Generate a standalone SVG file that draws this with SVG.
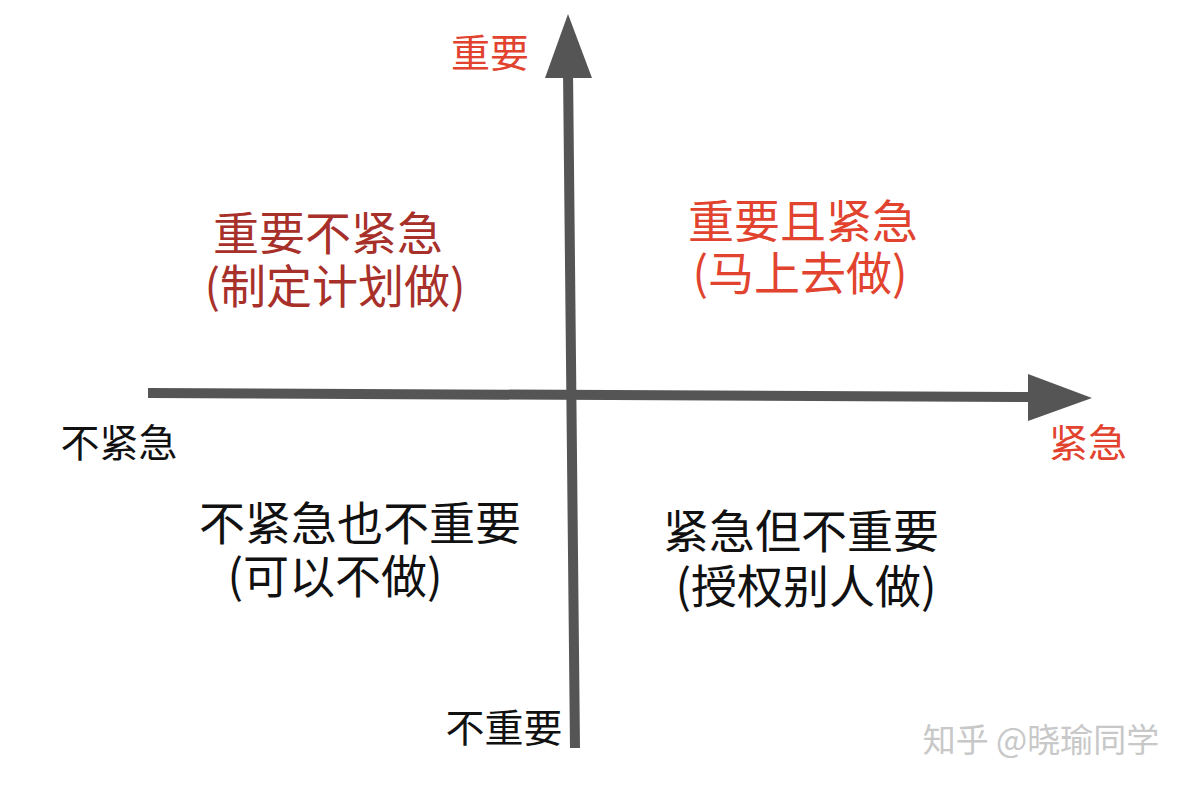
<svg xmlns="http://www.w3.org/2000/svg" width="1200" height="785" viewBox="0 0 1200 785">
<style>
text{font-family:"Noto Sans CJK SC","Noto Sans",sans-serif;text-anchor:middle;dominant-baseline:central}
.ax{stroke:#555;stroke-width:10;fill:none}
.big{font-size:46px}
.mid{font-size:39px}
.dr{fill:#a8302a}
.r{fill:#e2432f}
.k{fill:#111}
</style>
<rect width="1200" height="785" fill="#fff"/>
<g id="connectors">
<line class="ax" x1="575" y1="748" x2="568" y2="70"/>
<polygon points="568,14 545,78 592,78" fill="#555"/>
<line class="ax" x1="148" y1="393" x2="1035" y2="397"/>
<polygon points="1092,398 1028,374 1028,421" fill="#555"/>
</g>
<g id="n1"><text class="mid r" x="490" y="50">重要</text></g>
<g id="n2"><text class="big dr" x="328" y="230">重要不紧急</text><text class="big dr" x="335" y="283">(制定计划做)</text></g>
<g id="n3"><text class="big r" x="803" y="218">重要且紧急</text><text class="big r" x="800" y="270">(马上去做)</text></g>
<g id="n4"><text class="mid k" x="119" y="440">不紧急</text></g>
<g id="n5"><text class="mid r" x="1088" y="440">紧急</text></g>
<g id="n6"><text class="big k" x="360" y="520">不紧急也不重要</text><text class="big k" x="335" y="573">(可以不做)</text></g>
<g id="n7"><text class="big k" x="801" y="528">紧急但不重要</text><text class="big k" x="806" y="583">(授权别人做)</text></g>
<g id="n8"><text class="mid k" x="504" y="725">不重要</text></g>
<g id="wm"><text x="1041" y="738" style="font-size:33px;fill:#c8c8c8">知乎 @晓瑜同学</text></g>
</svg>
